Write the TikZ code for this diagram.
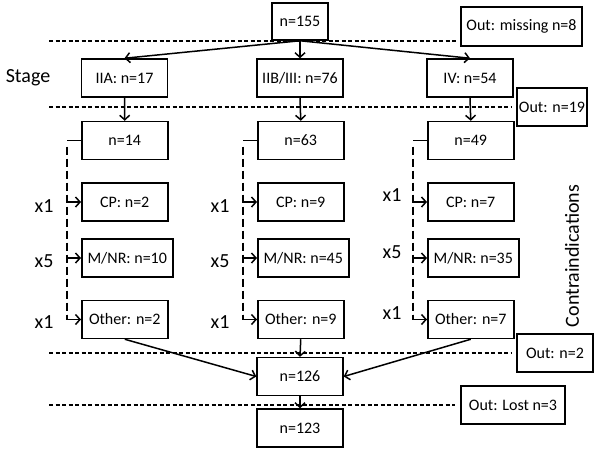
\documentclass[tikz,border=0pt]{standalone}
\usepackage{fontspec}
\setmainfont{Carlito}
\usetikzlibrary{arrows.meta}

\begin{document}
\begin{tikzpicture}
[x=1pt, y=-1pt, line width=1.5pt,
 box/.style={draw, minimum width=86pt, minimum height=38pt, inner sep=0pt,
   font=\fontsize{16}{18}\selectfont},
 colbox/.style={box, anchor=west},
 lab/.style={font=\fontsize{20}{22}\selectfont},
 sep/.style={dash pattern=on 4pt off 2.5pt},
 brk/.style={dash pattern=on 8pt off 4pt},
 >={Straight Barb[length=4.5pt,width=10pt]}]

\useasboundingbox (0,0) rectangle (600,450);

%________________________________________________%
\node[box, minimum width=56pt, minimum height=37pt] (all) at (300,21.5) {n=155};
\node[box, minimum width=121pt, minimum height=39pt] (outA) at (521.5,26.5) {Out: missing n=8};
\draw[sep] (49,41) -- (456,41);
%________________________________________________%
\node[lab] (stage) at (28,78) {Stage};
\node[box] (iia) at (124.5,78) {IIA: n=17};
\node[box] (iib) at (300,78) {IIB/III: n=76};
\node[box] (iv) at (470,78) {IV: n=54};
\draw[->] (all.south) -- (iia.north);
\draw[->] (all.south) -- (iib.north);
\draw[->] (all.south) -- (iv.north);
\node[box, minimum width=70pt] (outB) at (552,107) {Out: n=19};
\draw[sep] (49,107) -- ([xshift=-4pt]outB.west);
%________________________________________________%
% IIA
\node[colbox] (a0) at (81,140.5) {n=14};
\node[colbox] (a1) at (81,202) {CP: n=2};
\node[colbox, minimum width=91pt] (a2) at (81,258) {M/NR: n=10};
\node[colbox] (a3) at (81,319.5) {Other: n=2};
\draw[->] (iia.south) -- (a0.north);
\coordinate (ka) at ([xshift=-14pt]a0.west);
\draw (a0.west) -- (ka);
\draw[brk] ([yshift=-6pt]ka) -- ([yshift=5pt]ka |- a3.west);
\draw[->] (ka |- a1.west) -- (a1.west);
\draw[->] (ka |- a2.west) -- (a2.west);
\draw[->] ([yshift=5pt]ka |- a3.west) |- (a3.west);
\node[lab] (xa1) at (44,206) {x1};
\node[lab] (xa2) at (44,261) {x5};
\node[lab] (xa3) at (44,322) {x1};
%________________________________________________%
% IIB/III
\node[colbox] (b0) at (257,140.5) {n=63};
\node[colbox] (b1) at (257,202) {CP: n=9};
\node[colbox, minimum width=91pt] (b2) at (257,258) {M/NR: n=45};
\node[colbox] (b3) at (257,319.5) {Other: n=9};
\draw[->] (iib.south) -- (b0.north);
\coordinate (kb) at ([xshift=-14pt]b0.west);
\draw (b0.west) -- (kb);
\draw[brk] ([yshift=-6pt]kb) -- ([yshift=5pt]kb |- b3.west);
\draw[->] (kb |- b1.west) -- (b1.west);
\draw[->] (kb |- b2.west) -- (b2.west);
\draw[->] ([yshift=5pt]kb |- b3.west) |- (b3.west);
\node[lab] (xb1) at (220,206) {x1};
\node[lab] (xb2) at (220,261) {x5};
\node[lab] (xb3) at (220,322) {x1};
%________________________________________________%
% IV
\node[colbox] (c0) at (427,140.5) {n=49};
\node[colbox] (c1) at (427,202) {CP: n=7};
\node[colbox, minimum width=91pt] (c2) at (427,258) {M/NR: n=35};
\node[colbox] (c3) at (427,319.5) {Other: n=7};
\draw[->] (iv.south) -- (c0.north);
\coordinate (kc) at ([xshift=-14pt]c0.west);
\draw (c0.west) -- (kc);
\draw[brk] ([yshift=-6pt]kc) -- ([yshift=5pt]kc |- c3.west);
\draw[->] (kc |- c1.west) -- (c1.west);
\draw[->] (kc |- c2.west) -- (c2.west);
\draw[->] ([yshift=5pt]kc |- c3.west) |- (c3.west);
\node[lab] (xc1) at (392,195) {x1};
\node[lab] (xc2) at (392,252) {x5};
\node[lab] (xc3) at (392,313) {x1};
\node[lab, rotate=90] (contra) at (572,256) {Contraindications};
%________________________________________________%
\node[box] (merged) at (300,376.5) {n=126};
\draw[->] (a3.south) -- (merged.west);
\draw[->] (b3.south) -- (merged.north);
\draw[->] (c3.south) -- (merged.east);
\node[box, minimum width=76pt] (outC) at (555,353) {Out: n=2};
\draw[sep] (49,353) -- ([xshift=-4pt]outC.west);
%________________________________________________%
\node[box] (final) at (300,428) {n=123};
\draw[->] (merged.south) -- (final.north);
\node[box, minimum width=104pt] (outD) at (513,405) {Out: Lost n=3};
\draw[sep] (49,405) -- ([xshift=-5pt]outD.west);
%________________________________________________%
\end{tikzpicture}
\end{document}
